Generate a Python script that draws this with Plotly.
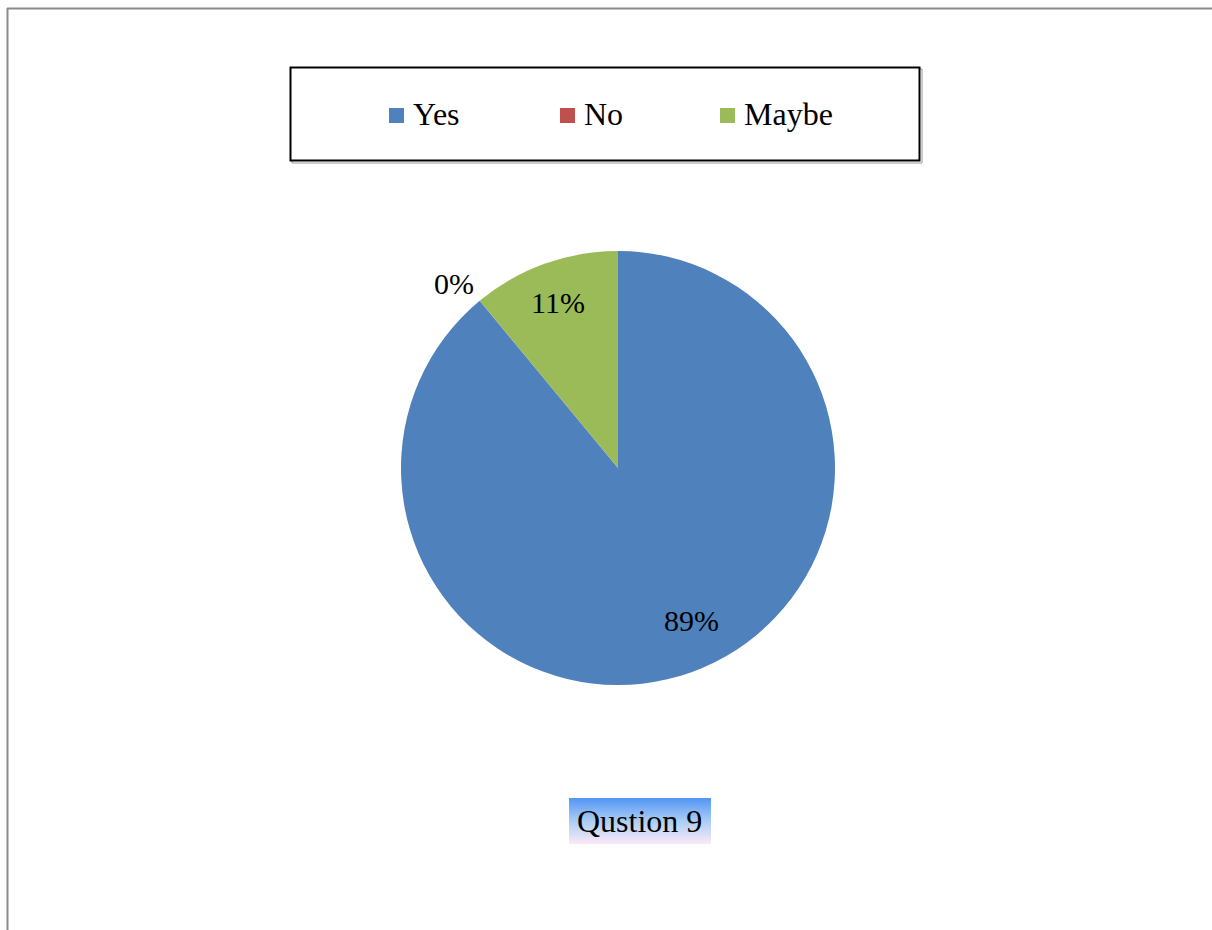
import math
import plotly.graph_objects as go

# Survey answers for question 9
categories = ["Yes", "No", "Maybe"]
values = [89, 0, 11]
colors = ["#4F81BD", "#C0504D", "#9BBB59"]
title_text = "Qustion 9"

W, H = 1212, 930
FONT = "Liberation Serif, Times New Roman, serif"
FS_LABEL = 30
FS_TEXT = 32

# Pie geometry in pixels
cx, cy, R = 618, 468, 217

fig = go.Figure()
fig.add_trace(go.Pie(
    labels=categories,
    values=values,
    marker=dict(colors=colors, line=dict(width=0)),
    sort=False,
    direction="clockwise",
    rotation=0,
    textinfo="none",
    hoverinfo="label+percent",
    showlegend=False,
    domain=dict(x=[(cx - R) / W, (cx + R) / W],
                y=[(H - cy - R) / H, (H - cy + R) / H]),
))

shapes = []
annotations = []

# Percentage labels positioned from the cumulative slice angles
total = sum(values)
cum = 0.0
for cat, v in zip(categories, values):
    start = cum / total * 360
    cum += v
    end = cum / total * 360
    pct = round(100 * v / total)
    if v == 0:
        ang = start - 2
        rf = 1.14
    elif v / total > 0.5:
        ang = (start + end) / 2 - 6
        rf = 0.78
    else:
        ang = (start + end) / 2
        rf = 0.81
    px = cx + rf * R * math.sin(math.radians(ang))
    py = cy - rf * R * math.cos(math.radians(ang))
    annotations.append(dict(
        x=px / W, y=1 - py / H, xref="paper", yref="paper",
        text=f"{pct}%", showarrow=False,
        font=dict(family=FONT, size=FS_LABEL, color="black"),
        xanchor="center", yanchor="middle",
    ))

# Legend frame with a soft shadow
shapes.append(dict(type="rect", xref="paper", yref="paper",
                   x0=292 / W, x1=922 / W, y0=1 - 163 / H, y1=1 - 69 / H,
                   line=dict(color="#9a9a9a", width=1), fillcolor="rgba(0,0,0,0)"))
shapes.append(dict(type="rect", xref="paper", yref="paper",
                   x0=290.5 / W, x1=919.5 / W, y0=1 - 160.5 / H, y1=1 - 67.5 / H,
                   line=dict(color="black", width=2), fillcolor="white"))

# Legend entries
leg_x = [389, 560, 720]
leg_y = 115
for cat, col, lx in zip(categories, colors, leg_x):
    shapes.append(dict(type="rect", xref="paper", yref="paper",
                       x0=lx / W, x1=(lx + 15) / W,
                       y0=1 - (leg_y + 8) / H, y1=1 - (leg_y - 7) / H,
                       line=dict(width=0), fillcolor=col))
    annotations.append(dict(
        x=(lx + 22) / W, y=1 - (leg_y - 1) / H, xref="paper", yref="paper",
        text=cat, showarrow=False, xanchor="left", yanchor="middle",
        font=dict(family=FONT, size=FS_TEXT, color="black"),
    ))

# Title box with a vertical blue-to-pink gradient
tx0, tx1, ty0, ty1 = 569, 711, 798, 844
top_rgb = (85, 150, 245)
mid_rgb = (170, 205, 245)
bot_rgb = (250, 232, 246)
n = ty1 - ty0
for i in range(n):
    t = i / (n - 1)
    if t < 0.5:
        a, b, u = top_rgb, mid_rgb, t / 0.5
    else:
        a, b, u = mid_rgb, bot_rgb, (t - 0.5) / 0.5
    c = tuple(round(a[k] + (b[k] - a[k]) * u) for k in range(3))
    shapes.append(dict(type="rect", xref="paper", yref="paper",
                       x0=tx0 / W, x1=tx1 / W,
                       y0=1 - (ty0 + i + 1) / H, y1=1 - (ty0 + i) / H,
                       line=dict(width=0), fillcolor=f"rgb{c}", layer="below"))
annotations.append(dict(
    x=(tx0 + tx1) / 2 / W, y=1 - (ty0 + ty1) / 2 / H, xref="paper", yref="paper",
    text=title_text, showarrow=False, xanchor="center", yanchor="middle",
    font=dict(family=FONT, size=FS_TEXT, color="black"),
))

# Page edges
shapes.append(dict(type="line", xref="paper", yref="paper",
                   x0=7 / W, x1=1, y0=1 - 8.5 / H, y1=1 - 8.5 / H,
                   line=dict(color="#8a8a8a", width=2)))
shapes.append(dict(type="line", xref="paper", yref="paper",
                   x0=7.5 / W, x1=7.5 / W, y0=0, y1=1 - 8 / H,
                   line=dict(color="#8a8a8a", width=2)))

fig.update_layout(
    width=W, height=H,
    margin=dict(l=0, r=0, t=0, b=0),
    paper_bgcolor="white",
    plot_bgcolor="white",
    shapes=shapes,
    annotations=annotations,
    showlegend=False,
)

fig.write_html("out.html")
